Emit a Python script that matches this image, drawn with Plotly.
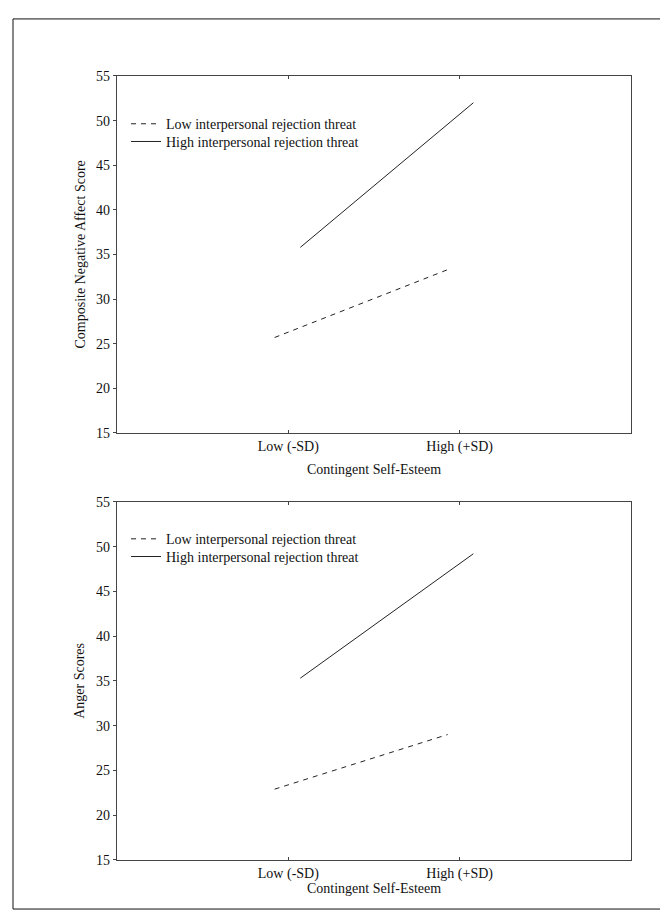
import plotly.graph_objects as go

# ---- data ----
categories = ["Low (-SD)", "High (+SD)"]
tick_pos = [0, 1]
low_x = [-0.08, 0.93]      # dashed line horizontal placement (as drawn)
high_x = [0.07, 1.08]      # solid line horizontal placement (as drawn)
series_names = ["Low interpersonal rejection threat", "High interpersonal rejection threat"]

neg_low = [25.7, 33.3]
neg_high = [35.8, 52.0]
anger_low = [22.9, 29.0]
anger_high = [35.3, 49.2]

y_ticks = [15, 20, 25, 30, 35, 40, 45, 50, 55]
y_titles = ["Composite Negative Affect Score", "Anger Scores"]
x_title = "Contingent Self-Esteem"

W, H = 668, 911
FONT = "Liberation Serif, Times New Roman, serif"
TXT = "#111111"
AX = "#444444"

def px(v):
    return v / W

def py(v):
    return 1 - v / H

fig = go.Figure()

line_style = [dict(color="#222222", width=1, dash="5px,5px"),
              dict(color="#222222", width=1)]

fig.add_trace(go.Scatter(x=low_x, y=neg_low, mode="lines", name=series_names[0],
                         line=line_style[0], xaxis="x", yaxis="y", legend="legend"))
fig.add_trace(go.Scatter(x=high_x, y=neg_high, mode="lines", name=series_names[1],
                         line=line_style[1], xaxis="x", yaxis="y", legend="legend2"))
fig.add_trace(go.Scatter(x=low_x, y=anger_low, mode="lines", name=series_names[0],
                         line=line_style[0], xaxis="x2", yaxis="y2", legend="legend3"))
fig.add_trace(go.Scatter(x=high_x, y=anger_high, mode="lines", name=series_names[1],
                         line=line_style[1], xaxis="x2", yaxis="y2", legend="legend4"))

xdom = [px(109), px(623)]
top_dom = [py(425), py(62)]
bot_dom = [py(859), py(495)]

xa = dict(range=[-1, 2], tickvals=tick_pos, ticktext=categories, ticks="inside", ticklen=3,
          tickcolor=AX, showline=True, linecolor=AX, linewidth=1.3, mirror="ticks",
          showgrid=False, zeroline=False, domain=xdom,
          tickfont=dict(family=FONT, size=14, color=TXT))
ya = dict(range=[15, 55], tickvals=y_ticks, ticks="outside", ticklen=3, tickcolor=AX,
          showline=True, linecolor=AX, linewidth=1.3, mirror=True, showgrid=False,
          zeroline=False, tickfont=dict(family=FONT, size=14, color=TXT))
yr = dict(range=[15, 55], tickvals=y_ticks, ticks="inside", ticklen=3, tickcolor=AX,
          showline=False, showgrid=False, zeroline=False, showticklabels=False, side="right")

leg = dict(font=dict(family=FONT, size=14, color=TXT), bgcolor="rgba(0,0,0,0)",
           xanchor="left", yanchor="middle", tracegroupgap=0, itemwidth=30)
LEG_X = px(118)

fig.update_layout(
    width=W, height=H,
    margin=dict(l=0, r=0, t=0, b=0),
    paper_bgcolor="white", plot_bgcolor="white",
    xaxis=dict(xa, anchor="y"),
    yaxis=dict(ya, anchor="x", domain=top_dom),
    xaxis2=dict(xa, anchor="y2"),
    yaxis2=dict(ya, anchor="x2", domain=bot_dom),
    yaxis3=dict(yr, overlaying="y", anchor="x"),
    yaxis4=dict(yr, overlaying="y2", anchor="x2"),
    legend=dict(leg, x=LEG_X, y=py(111)),
    legend2=dict(leg, x=LEG_X, y=py(129)),
    legend3=dict(leg, x=LEG_X, y=py(533)),
    legend4=dict(leg, x=LEG_X, y=py(551)),
    showlegend=True,
    annotations=[
        dict(text=y_titles[0], xref="paper", yref="paper", x=px(72), y=(top_dom[0] + top_dom[1]) / 2,
             textangle=-90, showarrow=False, xanchor="center", yanchor="middle",
             font=dict(family=FONT, size=14, color=TXT)),
        dict(text=y_titles[1], xref="paper", yref="paper", x=px(72), y=(bot_dom[0] + bot_dom[1]) / 2,
             textangle=-90, showarrow=False, xanchor="center", yanchor="middle",
             font=dict(family=FONT, size=14, color=TXT)),
        dict(text=x_title, xref="paper", yref="paper", x=px(366), y=py(462),
             showarrow=False, xanchor="center", yanchor="middle",
             font=dict(family=FONT, size=14, color=TXT)),
        dict(text=x_title, xref="paper", yref="paper", x=px(366), y=py(888),
             showarrow=False, xanchor="center", yanchor="middle",
             font=dict(family=FONT, size=14, color=TXT)),
    ],
    shapes=[dict(type="rect", xref="paper", yref="paper", x0=px(5), x1=px(660),
                 y0=py(909), y1=py(4), line=dict(color="#111111", width=1))],
)

fig.write_html("out.html")
